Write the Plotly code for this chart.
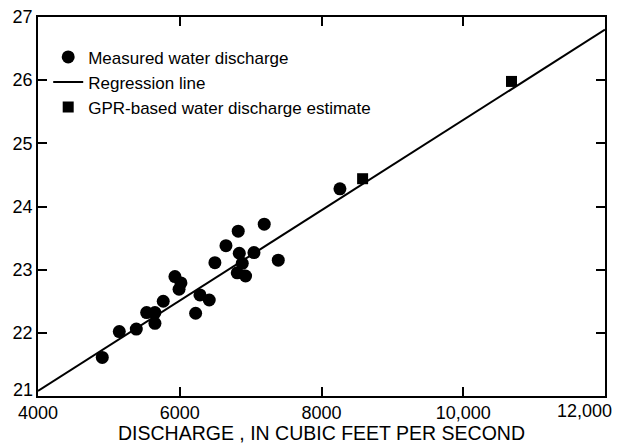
import plotly.graph_objects as go

# Measured water discharge (cfs) and gage height (ft)
measured_q = [4907, 5147, 5387, 5533, 5650, 5650, 5767, 5932, 6017, 5990, 6224, 6285,
              6416, 6496, 6652, 6825, 6840, 6882, 6811, 6929, 7047, 7192, 7390, 8260]
measured_gh = [21.61, 22.02, 22.06, 22.32, 22.32, 22.15, 22.50, 22.89, 22.79, 22.69, 22.31, 22.60,
               22.52, 23.11, 23.38, 23.61, 23.26, 23.10, 22.95, 22.90, 23.27, 23.72, 23.15, 24.28]

# Regression line end points
reg_q = [4000, 12000]
reg_gh = [21.08, 26.80]

# GPR-based water discharge estimates
gpr_q = [8580, 10681]
gpr_gh = [24.44, 25.98]

x_ticks = [4000, 6000, 8000, 10000, 12000]
x_tick_labels = ["4000", "6000", "8000", "10,000", ""]   # last label placed inside the page below
x_last_label = "12,000"
y_ticks = [21, 22, 23, 24, 25, 26, 27]
y_tick_labels = ["", "22", "23", "24", "25", "26", "27"]  # "21" is placed slightly raised below
y_bottom_label = "21"

FONT = "Liberation Sans, Arial, Helvetica, sans-serif"

fig = go.Figure()
fig.add_trace(go.Scatter(
    x=measured_q, y=measured_gh, mode="markers", name="Measured water discharge",
    marker=dict(symbol="circle", size=13, color="black", line=dict(width=0)),
))
fig.add_trace(go.Scatter(
    x=reg_q, y=reg_gh, mode="lines", name="Regression line",
    line=dict(color="black", width=2),
))
fig.add_trace(go.Scatter(
    x=gpr_q, y=gpr_gh, mode="markers", name="GPR-based water discharge estimate",
    marker=dict(symbol="square", size=11, color="black", line=dict(width=0)),
))

axis_common = dict(
    showgrid=False, zeroline=False, showline=True, linecolor="black", linewidth=1.5,
    ticks="inside", ticklen=9, tickwidth=1.5, tickcolor="black", mirror="ticks",
    tickfont=dict(family=FONT, size=18, color="black"),
    automargin=False, ticklabeloverflow="allow",
)

# The page body has an 8 px default margin, so the figure is sized 8 px smaller.
fig.update_layout(
    width=613, height=436,
    margin=dict(l=30, r=16, t=9, b=48),
    plot_bgcolor="white", paper_bgcolor="white",
    font=dict(family=FONT, color="black"),
    showlegend=True,
    legend=dict(
        x=0.018, y=0.941, xanchor="left", yanchor="top",
        font=dict(family=FONT, size=17, color="black"),
        bgcolor="rgba(0,0,0,0)", borderwidth=0, tracegroupgap=0,
    ),
    xaxis=dict(
        range=[4000, 12000], tickvals=x_ticks, ticktext=x_tick_labels,
        title=dict(text="DISCHARGE , IN CUBIC FEET PER SECOND",
                   font=dict(family=FONT, size=19.5, color="black"), standoff=4),
        **axis_common,
    ),
    yaxis=dict(
        range=[21, 27], tickvals=y_ticks, ticktext=y_tick_labels,
        **axis_common,
    ),
    annotations=[
        dict(text=y_bottom_label, xref="paper", yref="y", x=0, y=y_ticks[0],
             xanchor="right", yanchor="middle", xshift=-3, yshift=6, showarrow=False,
             font=dict(family=FONT, size=18, color="black")),
        dict(text=x_last_label, xref="x", yref="paper", x=x_ticks[-1], y=0,
             xanchor="right", yanchor="top", xshift=9, yshift=-3, showarrow=False,
             font=dict(family=FONT, size=18, color="black")),
    ],
)

fig.write_html("out.html")
